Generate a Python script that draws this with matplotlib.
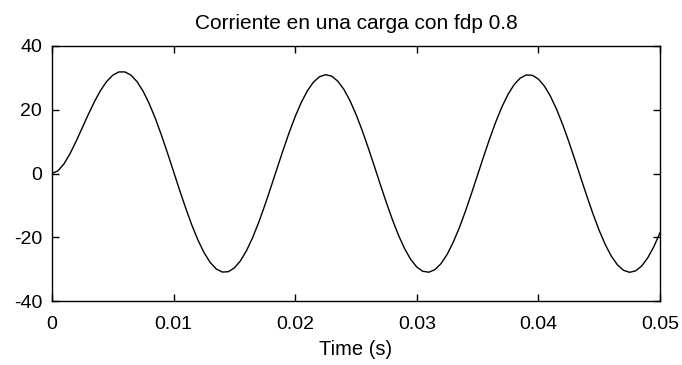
import matplotlib

matplotlib.use("Agg")
import matplotlib.pyplot as plt
import numpy as np

# sample times (s), one every 0.5 ms
time_s = np.arange(101) * 0.0005

# current values (A)
current = [
    0.0, 0.85, 3.09, 6.33, 10.22, 14.42, 18.63, 22.59, 26.07, 28.88,
    30.84, 31.86, 31.87, 30.85, 28.80, 25.78, 21.89, 17.27, 12.05, 6.43,
    0.59, -5.26, -10.90, -16.15, -20.84, -24.77, -27.85, -29.91, -30.91, -30.81,
    -29.62, -27.39, -24.19, -20.12, -15.35, -10.03, -4.35, 1.48, 7.25, 12.77,
    17.84, 22.28, 25.92, 28.65, 30.36, 31.00, 30.54, 28.99, 26.42, 22.92,
    18.60, 13.62, 8.16, 2.42, -3.42, -9.13, -14.52, -19.39, -23.58, -26.94,
    -29.34, -30.69, -30.96, -30.14, -28.25, -25.35, -21.56, -17.01, -11.85, -6.27,
    -0.47, 5.35, 10.97, 16.21, 20.88, 24.80, 27.85, 29.91, 30.91, 30.81,
    29.62, 27.39, 24.19, 20.12, 15.35, 10.03, 4.35, -1.48, -7.25, -12.77,
    -17.84, -22.28, -25.92, -28.65, -30.36, -31.00, -30.54, -28.99, -26.42, -22.92,
    -18.60,
]

x_ticks = [0, 0.01, 0.02, 0.03, 0.04, 0.05]
x_tick_labels = ["0", "0.01", "0.02", "0.03", "0.04", "0.05"]
y_ticks = [-40, -20, 0, 20, 40]

plt.rcParams["font.family"] = ["Liberation Sans", "DejaVu Sans"]
plt.rcParams["axes.unicode_minus"] = False

fig = plt.figure(figsize=(6.82, 3.65), dpi=100)
ax = fig.add_axes([0.0762, 0.1753, 0.8915, 0.6987])

ax.plot(time_s, current, color="black", linewidth=1.0)

ax.set_xlim(0, 0.05)
ax.set_ylim(-40, 40)
ax.set_xticks(x_ticks)
ax.set_xticklabels(x_tick_labels)
ax.set_yticks(y_ticks)

ax.tick_params(direction="in", length=5, width=1, top=True, right=True,
               labelsize=14, colors="black")
ax.tick_params(axis="x", pad=11)
ax.tick_params(axis="y", pad=7)
for spine in ax.spines.values():
    spine.set_linewidth(1)
    spine.set_color("black")

ax.set_title("Corriente en una carga con fdp 0.8", fontsize=15, pad=12)
ax.set_xlabel("Time (s)", fontsize=14.5, labelpad=5)

fig.savefig("out.png", dpi=100)
plt.close(fig)
